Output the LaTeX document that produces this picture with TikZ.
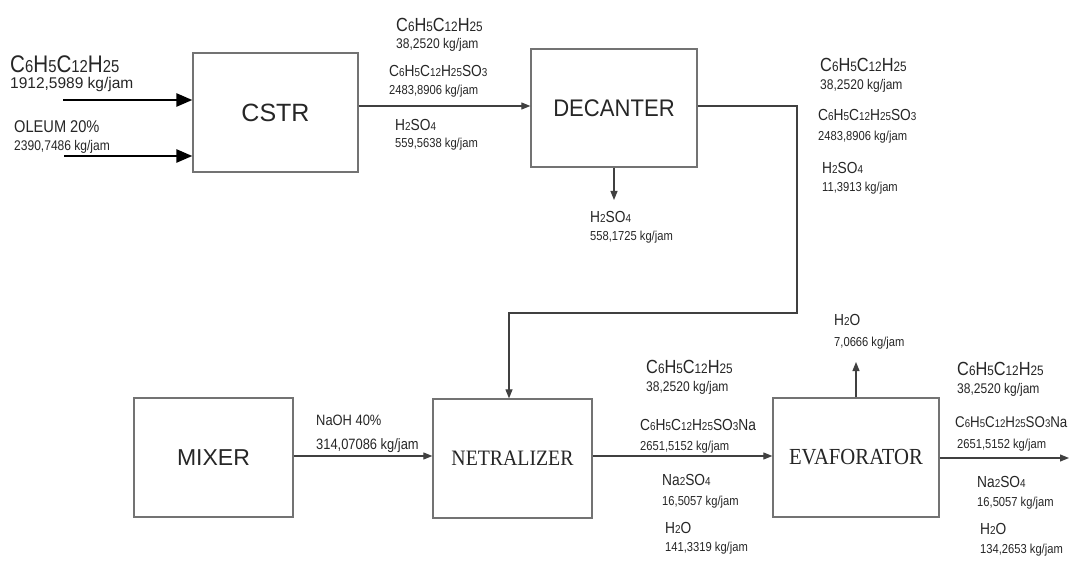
\documentclass[tikz,border=0pt]{standalone}
\usepackage{fontspec}
\setmainfont{Liberation Sans}
\newfontfamily\lab[FakeStretch=0.86]{Liberation Sans}
\newfontfamily\labw[FakeStretch=0.92]{Liberation Sans}
\newfontfamily\serifl[FakeStretch=0.9]{Liberation Serif}
\usetikzlibrary{arrows.meta}
\newcommand\sm[1]{\scalebox{0.72}{#1}}
\newcommand\fs[1]{\fontsize{#1}{#1}\selectfont}
\begin{document}
\begin{tikzpicture}[x=1pt,y=-1pt,
  box/.style={draw=black!55, line width=1.3pt, inner sep=0pt},
  flow/.style={draw=black!75, line width=1.1pt, -{Triangle[length=9pt,width=7pt]}},
  feed/.style={draw=black, line width=2.6pt, -{Triangle[length=16pt,width=13pt]}},
  lbl/.style={anchor=west, inner sep=0pt, text=black!85, font=\lab},
  big/.style={text=black!85},
  bigs/.style={font=\serifl\fs{23}, text=black!85}]
\useasboundingbox[fill=white] (0,0) rectangle (1070,561);

% units
\node[box, minimum width=165pt, minimum height=119pt, big, font=\rmfamily\fs{25}] (cstr) at (275.5,112.5) {CSTR};
\node[box, minimum width=166pt, minimum height=118pt, big, font=\labw\fs{24}] (dec) at (614,108) {DECANTER};
\node[box, minimum width=159pt, minimum height=119pt, big, font=\rmfamily\fs{23}] (mix) at (213.5,457.5) {MIXER};
\node[box, minimum width=159pt, minimum height=119pt, bigs, font=\serifl\fs{22}] (net) at (512.5,458.5) {NETRALIZER};
\node[box, minimum width=166pt, minimum height=119pt, bigs] (evap) at (856,457.5) {EVAFORATOR};

% feeds
\coordinate (in1) at (63,100);
\coordinate (in2) at (64,156);
\draw[feed] (in1) -- (in1 -| cstr.west);
\draw[feed] (in2) -- (in2 -| cstr.west);
\node[lbl, font=\lab\fs{24}] (l1) at (10,64) {C\sm{6}H\sm{5}C\sm{12}H\sm{25}};
\node[lbl, font=\rmfamily\fs{15.5}] (l2) at (10,84) {1912,5989 kg/jam};
\node[lbl, font=\lab\fs{17}] (l3) at (14,127) {OLEUM 20\%};
\node[lbl, font=\lab\fs{14}] (l4) at (14,147) {2390,7486 kg/jam};

% CSTR -> DECANTER
\coordinate (c1) at (358,106);
\draw[flow] (cstr.east |- c1) -- (c1 -| dec.west);
\node[lbl, font=\lab\fs{19}] (a1) at (396,25) {C\sm{6}H\sm{5}C\sm{12}H\sm{25}};
\node[lbl, font=\lab\fs{14}] (a2) at (396,45) {38,2520 kg/jam};
\node[lbl, font=\lab\fs{16}] (a3) at (389,71) {C\sm{6}H\sm{5}C\sm{12}H\sm{25}SO\sm{3}};
\node[lbl, font=\lab\fs{13}] (a4) at (389,91) {2483,8906 kg/jam};
\node[lbl, font=\lab\fs{16}] (a5) at (395,125) {H\sm{2}SO\sm{4}};
\node[lbl, font=\lab\fs{13}] (a6) at (395,144) {559,5638 kg/jam};

% DECANTER bottom
\coordinate (d1) at (614,200);
\draw[flow] (dec.south) -- (d1);
\node[lbl, font=\lab\fs{16}] (b1) at (590,217) {H\sm{2}SO\sm{4}};
\node[lbl, font=\lab\fs{13}] (b2) at (590,237) {558,1725 kg/jam};

% DECANTER -> NETRALIZER
\coordinate (k0) at (797,106);
\coordinate (k1) at (797,313);
\coordinate (k2) at (509,313);
\draw[flow] (dec.east |- k0) -- (k0) -- (k1) -- (k2) -- (k2 |- net.north);
\node[lbl, font=\lab\fs{19}] (r1) at (820,65) {C\sm{6}H\sm{5}C\sm{12}H\sm{25}};
\node[lbl, font=\lab\fs{14}] (r2) at (820,86) {38,2520 kg/jam};
\node[lbl, font=\lab\fs{16}] (r3) at (818,115) {C\sm{6}H\sm{5}C\sm{12}H\sm{25}SO\sm{3}};
\node[lbl, font=\lab\fs{13}] (r4) at (818,137) {2483,8906 kg/jam};
\node[lbl, font=\lab\fs{16}] (r5) at (822,168) {H\sm{2}SO\sm{4}};
\node[lbl, font=\lab\fs{13}] (r6) at (822,188) {11,3913 kg/jam};

% MIXER -> NETRALIZER
\coordinate (m1) at (300,456);
\draw[flow] (mix.east |- m1) -- (m1 -| net.west);
\node[lbl, font=\lab\fs{15}] (n1) at (316,420) {NaOH 40\%};
\node[lbl, font=\lab\fs{15}] (n2) at (316,446) {314,07086 kg/jam};

% NETRALIZER -> EVAFORATOR
\coordinate (e1) at (600,456);
\draw[flow] (net.east |- e1) -- (e1 -| evap.west);
\node[lbl, font=\lab\fs{19}] (p1) at (646,367) {C\sm{6}H\sm{5}C\sm{12}H\sm{25}};
\node[lbl, font=\lab\fs{14}] (p2) at (646,388) {38,2520 kg/jam};
\node[lbl, font=\lab\fs{16}] (p3) at (640,425) {C\sm{6}H\sm{5}C\sm{12}H\sm{25}SO\sm{3}Na};
\node[lbl, font=\lab\fs{13}] (p4) at (640,447) {2651,5152 kg/jam};
\node[lbl, font=\lab\fs{16}] (p5) at (662,480) {Na\sm{2}SO\sm{4}};
\node[lbl, font=\lab\fs{13}] (p6) at (662,502) {16,5057 kg/jam};
\node[lbl, font=\lab\fs{16}] (p7) at (665,528) {H\sm{2}O};
\node[lbl, font=\lab\fs{13}] (p8) at (665,548) {141,3319 kg/jam};

% EVAFORATOR top
\coordinate (u1) at (856,362);
\draw[flow] (evap.north) -- (u1);
\node[lbl, font=\lab\fs{16}] (t1) at (834,320) {H\sm{2}O};
\node[lbl, font=\lab\fs{13}] (t2) at (834,343) {7,0666 kg/jam};

% EVAFORATOR out
\coordinate (o1) at (1069,458);
\draw[flow] (evap.east |- o1) -- (o1);
\node[lbl, font=\lab\fs{19}] (q1) at (957,369) {C\sm{6}H\sm{5}C\sm{12}H\sm{25}};
\node[lbl, font=\lab\fs{14}] (q2) at (957,390) {38,2520 kg/jam};
\node[lbl, font=\lab\fs{15.5}] (q3) at (955,422) {C\sm{6}H\sm{5}C\sm{12}H\sm{25}SO\sm{3}Na};
\node[lbl, font=\lab\fs{13}] (q4) at (957,445) {2651,5152 kg/jam};
\node[lbl, font=\lab\fs{16}] (q5) at (977,482) {Na\sm{2}SO\sm{4}};
\node[lbl, font=\lab\fs{13}] (q6) at (977,503) {16,5057 kg/jam};
\node[lbl, font=\lab\fs{16}] (q7) at (980,529) {H\sm{2}O};
\node[lbl, font=\lab\fs{13}] (q8) at (980,550) {134,2653 kg/jam};
\end{tikzpicture}
\end{document}
